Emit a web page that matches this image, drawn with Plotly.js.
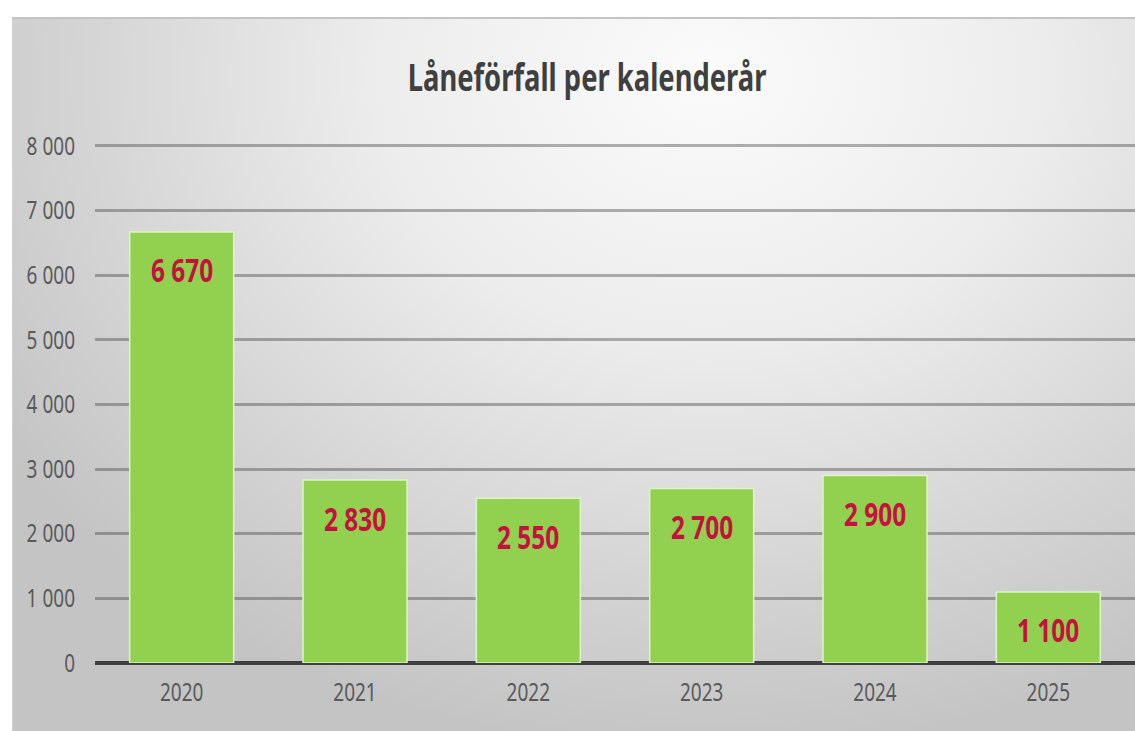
<!DOCTYPE html>
<html>
<head>
<meta charset="utf-8">
<script src="https://cdn.plot.ly/plotly-3.0.1.min.js"></script>
<style>
  html, body { margin:0; padding:0; background:#ffffff; width:1135px; height:731px; overflow:hidden; }
  #bg { position:absolute; left:12px; top:17px; right:0; bottom:0;
        border-top:2px solid #c4c4c4; border-left:1px solid #d0d0d0;
        background: radial-gradient(ellipse 75% 95% at 62% 8%, #fbfbfb 0%, #ececec 40%, #d4d4d4 75%, #c4c4c4 100%); }
  #chart { position:absolute; left:0; top:0; width:1135px; height:731px; }
</style>
</head>
<body>
<div id="bg"></div>
<div id="chart"></div>
<script>
const years = ['2020', '2021', '2022', '2023', '2024', '2025'];
const loans = [6670, 2830, 2550, 2700, 2900, 1100];
const yTicks = [0, 1000, 2000, 3000, 4000, 5000, 6000, 7000, 8000];
const chartTitle = 'Låneförfall per kalenderår';

function fmt(v) { return String(v).replace(/\B(?=(\d{3})+(?!\d))/g, ' '); }
const idx = years.map((_, i) => i);

const trace = {
  type: 'bar',
  x: idx,
  y: loans,
  width: 0.6,
  marker: { color: '#92D050', line: { color: '#dff3c6', width: 1.5 } },
  hoverinfo: 'skip'
};

const annotations = idx.map(i => ({
  x: i, y: loans[i], xref: 'x', yref: 'y',
  text: fmt(loans[i]), showarrow: false,
  yanchor: 'middle', yshift: -38,
  font: { family: 'Noto Sans', size: 33, color: '#C4113D', weight: 'bold' }
}));

const layout = {
  width: 1135, height: 731,
  margin: { l: 95, r: 0, t: 144, b: 68 },
  paper_bgcolor: 'rgba(0,0,0,0)',
  plot_bgcolor: 'rgba(0,0,0,0)',
  showlegend: false,
  title: {
    text: chartTitle,
    x: 587 / 1135, xref: 'container', xanchor: 'center',
    y: 1 - 78 / 731, yref: 'container', yanchor: 'middle',
    font: { family: 'Noto Sans', weight: 'bold', size: 37, color: '#3f3f3f' }
  },
  xaxis: {
    range: [-0.5, 5.5],
    tickvals: idx, ticktext: years,
    showgrid: false, showline: false, zeroline: false,
    ticks: 'outside', ticklen: 7, tickcolor: 'rgba(0,0,0,0)',
    tickfont: { family: 'Noto Sans', size: 25, color: '#595959' },
    fixedrange: true
  },
  yaxis: {
    range: [0, 8030],
    tickvals: yTicks,
    ticktext: yTicks.map(fmt),
    showgrid: true, gridcolor: 'rgba(70,70,70,0.42)', gridwidth: 3,
    zeroline: true, zerolinecolor: '#404040', zerolinewidth: 4,
    showline: false,
    ticks: 'outside', ticklen: 14, tickcolor: 'rgba(0,0,0,0)',
    tickfont: { family: 'Noto Sans', size: 25, color: '#595959' },
    fixedrange: true
  },
  annotations: annotations
};

function squish(sel, s, anchor) {
  document.querySelectorAll(sel).forEach(t => {
    const bb = t.getBBox();
    const cx = anchor === 'end' ? bb.x + bb.width : bb.x + bb.width / 2;
    const ex = t.getAttribute('transform') || '';
    t.setAttribute('transform', ex + ' translate(' + cx + ',0) scale(' + s + ',1) translate(' + (-cx) + ',0)');
  });
}

Plotly.newPlot('chart', [trace], layout, { displayModeBar: false, staticPlot: true }).then(() => {
  squish('#chart .gtitle', 0.74, 'middle');
  squish('#chart .annotation-text', 0.74, 'middle');
  squish('#chart .xtick text', 0.76, 'middle');
  squish('#chart .ytick text', 0.76, 'end');
});
</script>
</body>
</html>
